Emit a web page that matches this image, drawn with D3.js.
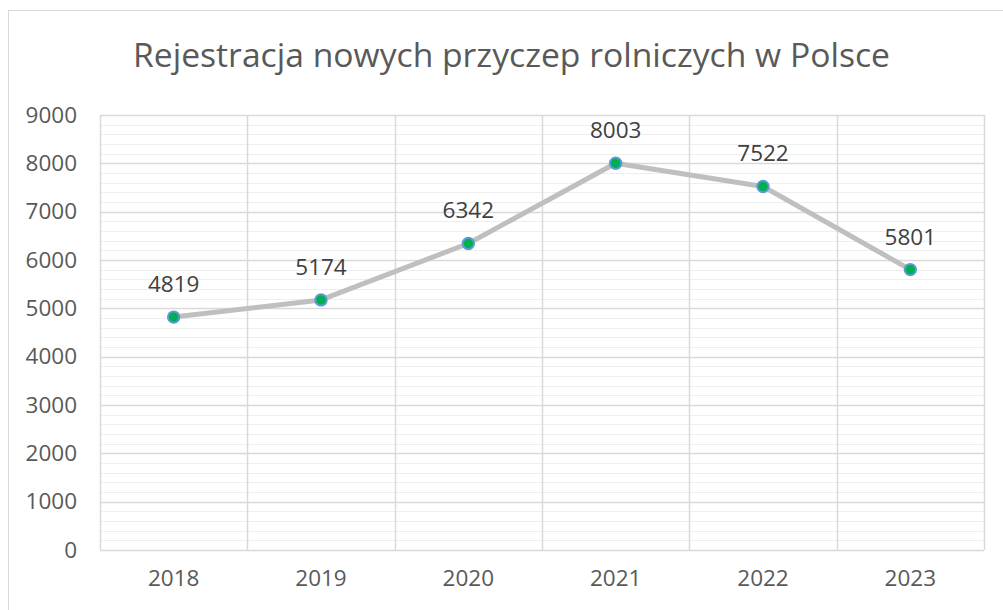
<!DOCTYPE html>
<html><head><meta charset="utf-8">
<script src="https://cdn.jsdelivr.net/npm/d3@7"></script>
<style>
html,body{margin:0;padding:0;background:#fff;}
svg{display:block;font-family:"Open Sans",sans-serif;}
</style></head>
<body>
<svg id="c" width="1003" height="610"></svg>
<script>
const titleText = "Rejestracja nowych przyczep rolniczych w Polsce";
const years = ["2018","2019","2020","2021","2022","2023"];
const values = [4819, 5174, 6342, 8003, 7522, 5801];
const yTicks = [0,1000,2000,3000,4000,5000,6000,7000,8000,9000];

const svg = d3.select("#c");
const W = 1003, H = 610;
const m = {left:100, right:19, top:115, bottom:60};
const iw = W - m.left - m.right, ih = H - m.top - m.bottom;

// chart border
svg.append("rect").attr("x",8.5).attr("y",10.5).attr("width",1010).attr("height",620)
  .attr("fill","#fff").attr("stroke","#d9d9d9").attr("stroke-width",1);

svg.append("text").attr("x",133).attr("y",67)
  .attr("font-size",32).attr("fill","#595959")
  .attr("textLength",757).attr("lengthAdjust","spacingAndGlyphs").text(titleText);

const x = d3.scaleBand().domain(years).range([0, iw]).padding(0);
const y = d3.scaleLinear().domain([0, 9000]).range([ih, 0]);

const g = svg.append("g").attr("transform",`translate(${m.left},${m.top})`);

// minor gridlines
const minor = d3.range(0, 9001, 200).filter(v => v % 1000 !== 0);
g.append("g").selectAll("line").data(minor).join("line")
  .attr("x1",0).attr("x2",iw).attr("y1",d=>Math.round(y(d))+0.5).attr("y2",d=>Math.round(y(d))+0.5)
  .attr("stroke","#eeeeee").attr("stroke-width",1);

// major gridlines
g.append("g").selectAll("line").data(yTicks).join("line")
  .attr("x1",0).attr("x2",iw).attr("y1",d=>Math.round(y(d))+0.5).attr("y2",d=>Math.round(y(d))+0.5)
  .attr("stroke","#d9d9d9").attr("stroke-width",1.5);

// vertical gridlines at category boundaries
const bounds = years.map(d => x(d)).concat([iw]);
g.append("g").selectAll("line").data(bounds).join("line")
  .attr("x1",d=>Math.round(d)+0.5).attr("x2",d=>Math.round(d)+0.5).attr("y1",0).attr("y2",ih)
  .attr("stroke","#d9d9d9").attr("stroke-width",1.5);

// y axis
const ya = g.append("g").call(d3.axisLeft(y).tickValues(yTicks).tickSize(0).tickPadding(23).tickFormat(d3.format("d")));
ya.select(".domain").remove();
ya.selectAll("text").attr("font-size",22.5).attr("fill","#595959").attr("font-family","Open Sans");

// x axis
const xa = g.append("g").attr("transform",`translate(0,${ih})`)
  .call(d3.axisBottom(x).tickSize(0).tickPadding(20));
xa.select(".domain").remove();
xa.selectAll("text").attr("font-size",22.5).attr("fill","#595959").attr("font-family","Open Sans");

const cx = d => x(d) + x.bandwidth()/2;
const pts = years.map((d,i)=>[cx(d), y(values[i])]);

g.append("path").attr("d", d3.line()(pts)).attr("fill","none")
  .attr("stroke","#bfbfbf").attr("stroke-width",5).attr("stroke-linejoin","round");

g.append("g").selectAll("circle").data(pts).join("circle")
  .attr("cx",d=>d[0]).attr("cy",d=>d[1]).attr("r",5.7)
  .attr("fill","#00b050").attr("stroke","#5b9bd5").attr("stroke-width",2);

g.append("g").selectAll("text").data(values).join("text")
  .attr("x",(d,i)=>pts[i][0]).attr("y",(d,i)=>pts[i][1]-25)
  .attr("text-anchor","middle").attr("font-size",22.5).attr("fill","#404040").text(d=>d);
</script>
</body></html>
